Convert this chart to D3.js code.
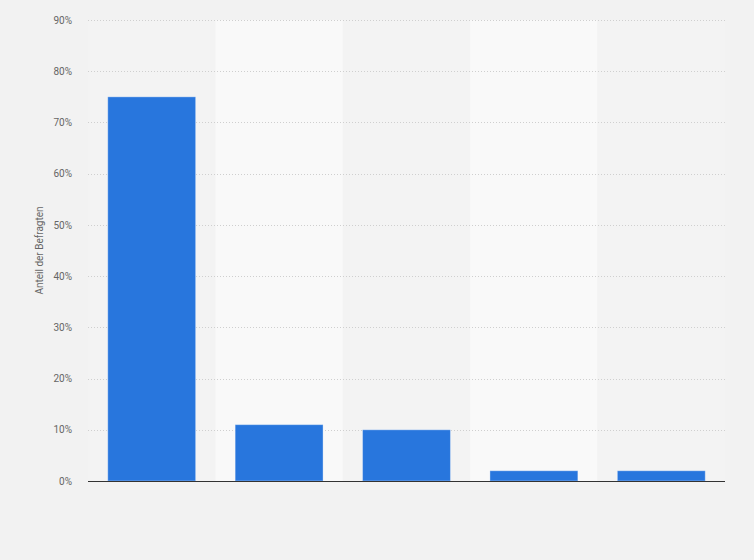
<!DOCTYPE html>
<html>
<head>
<meta charset="utf-8">
<script src="https://d3js.org/d3.v7.min.js"></script>
<style>
  body { margin: 0; background: #f2f2f2; }
  svg text { font-family: Roboto, "Open Sans", Arial, sans-serif; }
</style>
</head>
<body>
<svg id="chart" width="754" height="560"></svg>
<script>
// categories (no labels shown on the x axis in the picture)
var categories = ["A", "B", "C", "D", "E"];
var values = [75, 11, 10, 2, 2];
var yTicks = [0, 10, 20, 30, 40, 50, 60, 70, 80, 90];
var yTitle = "Anteil der Befragten";

var svg = d3.select("#chart");
var margin = {top: 20, left: 88, right: 29, bottom: 79};
var w = 754 - margin.left - margin.right;
var h = 560 - margin.top - margin.bottom;

svg.append("rect").attr("width", 754).attr("height", 560).attr("fill", "#f2f2f2");

var g = svg.append("g").attr("transform", "translate(" + margin.left + "," + margin.top + ")");

var x = d3.scaleBand().domain(categories).range([0, w]).paddingInner(0.31).paddingOuter(0.155);
var bands = d3.scaleBand().domain(categories).range([0, w]);
var y = d3.scaleLinear().domain([0, 90]).range([h, 0]);

// alternating column bands
g.selectAll(".band")
  .data(categories)
  .enter()
  .append("rect")
  .attr("x", function(d) { return bands(d); })
  .attr("y", 0)
  .attr("width", bands.bandwidth())
  .attr("height", h)
  .attr("fill", function(d, i) { return i % 2 ? "#f9f9f9" : "#f3f3f3"; });

// grid lines
g.selectAll(".grid")
  .data(yTicks.slice(1))
  .enter()
  .append("line")
  .attr("x1", 0)
  .attr("x2", w)
  .attr("y1", function(d) { return Math.round(y(d)) + 0.5; })
  .attr("y2", function(d) { return Math.round(y(d)) + 0.5; })
  .attr("stroke", "#cfcfcf")
  .attr("stroke-width", 1)
  .attr("stroke-dasharray", "1,2");

// y tick labels
var yAxis = d3.axisLeft(y).tickValues(yTicks).tickSize(0).tickPadding(16)
  .tickFormat(function(d) { return d + "%"; });
g.append("g").call(yAxis)
  .call(function(a) { a.select(".domain").remove(); })
  .selectAll("text")
  .attr("fill", "#666")
  .attr("font-size", "10px");

// bars
g.selectAll(".bar")
  .data(values)
  .enter()
  .append("rect")
  .attr("x", function(d, i) { return x(categories[i]); })
  .attr("y", function(d) { return y(d); })
  .attr("width", x.bandwidth())
  .attr("height", function(d) { return h - y(d); })
  .attr("fill", "#2876dd")
  .attr("stroke", "rgba(255,255,255,0.35)")
  .attr("stroke-width", 1);

// baseline
g.append("line")
  .attr("x1", 0).attr("x2", w)
  .attr("y1", h + 0.5).attr("y2", h + 0.5)
  .attr("stroke", "#333")
  .attr("stroke-width", 1);

// y title
svg.append("text")
  .attr("transform", "translate(43," + (margin.top + h / 2) + ") rotate(-90)")
  .attr("text-anchor", "middle")
  .attr("font-size", "10px")
  .attr("fill", "#666")
  .text(yTitle);
</script>
</body>
</html>
